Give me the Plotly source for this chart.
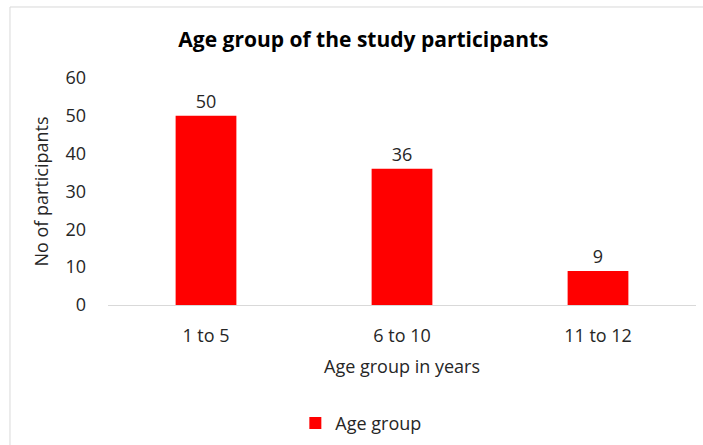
import plotly.graph_objects as go

categories = ["1 to 5", "6 to 10", "11 to 12"]
values = [50, 36, 9]
series_name = "Age group"

FONT = "Open Sans"
fig = go.Figure()
fig.add_trace(go.Bar(
    x=categories, y=values, name=series_name,
    marker=dict(color="#ff0000", line=dict(width=0)),
    text=values, textposition="outside", cliponaxis=False,
    textfont=dict(size=18, color="#262626", family=FONT),
    showlegend=True,
))

fig.update_layout(
    width=703, height=445,
    margin=dict(l=108, r=7, t=78, b=140, autoexpand=False),
    paper_bgcolor="white", plot_bgcolor="white",
    bargap=0.69,
    font=dict(family=FONT, size=18, color="#262626"),
    title=dict(text="<b>Age group of the study participants</b>",
               x=0.517, xanchor="center", y=0.912, yanchor="middle",
               font=dict(size=21, color="#000000", family=FONT)),
    xaxis=dict(showgrid=False, showline=True, linecolor="#d9d9d9", linewidth=1,
               ticks="", tickfont=dict(size=18), ticklabelstandoff=14, automargin=False,
               title=dict(text="Age group in years", font=dict(size=18), standoff=14)),
    yaxis=dict(range=[0, 60], dtick=10, showgrid=False, zeroline=False, showline=False,
               ticks="", tickfont=dict(size=18), ticklabelstandoff=21, automargin=False,
               title=dict(text="No of participants", font=dict(size=18), standoff=12)),
    legend=dict(orientation="h", x=0.43, xanchor="center", y=-0.44, yanchor="top",
                font=dict(size=18)),
    shapes=[
        dict(type="line", xref="paper", yref="paper", x0=-0.1667, x1=1.2, y0=1.3128, y1=1.3128,
             line=dict(color="#d9d9d9", width=1)),
        dict(type="line", xref="paper", yref="paper", x0=-0.1667, x1=-0.1667, y0=1.3128, y1=-1.0,
             line=dict(color="#d9d9d9", width=1)),
    ],
)

fig.write_html("out.html")
